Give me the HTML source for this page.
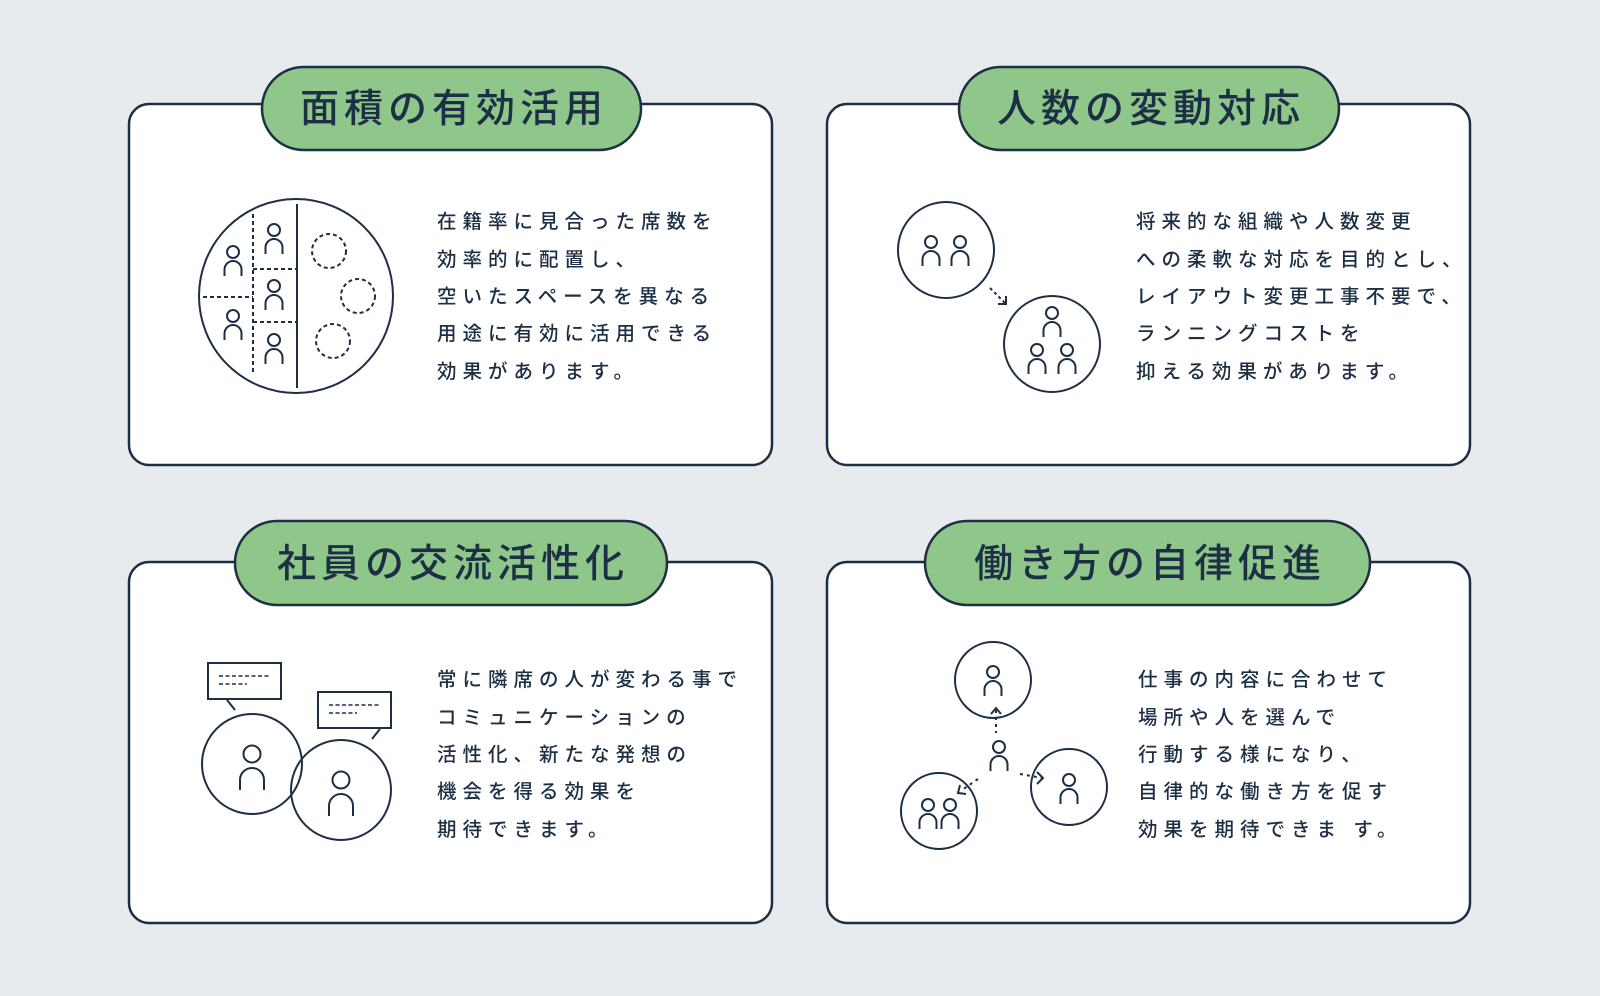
<!DOCTYPE html>
<html><head><meta charset="utf-8"><style>
html,body{margin:0;padding:0;background:#e7ebee;}
svg{display:block}
.t{font-family:"Liberation Sans","Noto Sans CJK JP",sans-serif;fill:#1c2f45;}
</style></head><body>
<svg width="1600" height="996" viewBox="0 0 1600 996" xmlns="http://www.w3.org/2000/svg">
<defs>
<g id="p" fill="none" stroke="#1c2f45" stroke-width="2"><circle cx="0" cy="0" r="6"/><path d="M-8.5,24 V17.5 A8.5,8.5 0 0 1 8.5,17.5 V24"/></g>
<g id="pb" fill="none" stroke="#1c2f45" stroke-width="2"><circle cx="0" cy="0" r="8.5"/><path d="M-12,36 V26 A12,12 0 0 1 12,26 V36"/></g>
</defs>
<rect width="1600" height="996" fill="#e7ebee"/>
<g fill="#fff" stroke="#1c2f45" stroke-width="2.5">
<rect x="129" y="104" width="643" height="361" rx="20"/>
<rect x="827" y="104" width="643" height="361" rx="20"/>
<rect x="129" y="562" width="643" height="361" rx="20"/>
<rect x="827" y="562" width="643" height="361" rx="20"/>
</g>
<g fill="#8fc68a" stroke="#1c2f45" stroke-width="2.5">
<rect x="262" y="67" width="379" height="83" rx="41.5"/>
<rect x="959" y="67" width="380" height="83" rx="41.5"/>
<rect x="235" y="521" width="432" height="84" rx="42"/>
<rect x="925" y="521" width="445" height="84" rx="42"/>
</g>
<g class="t" font-size="39" font-weight="500" text-anchor="middle" letter-spacing="5">
<text x="454" y="122">面積の有効活用</text>
<text x="1151" y="122">人数の変動対応</text>
<text x="453" y="577">社員の交流活性化</text>
<text x="1150" y="577">働き方の自律促進</text>
</g>
<g class="t" font-size="19.5" font-weight="500" letter-spacing="6">
<text x="437" y="228">在籍率に見合った席数を</text>
<text x="437" y="266">効率的に配置し、</text>
<text x="437" y="303">空いたスペースを異なる</text>
<text x="437" y="340">用途に有効に活用できる</text>
<text x="437" y="378">効果があります。</text>
<text x="1136" y="228">将来的な組織や人数変更</text>
<text x="1136" y="266">への柔軟な対応を目的とし、</text>
<text x="1136" y="303">レイアウト変更工事不要で、</text>
<text x="1136" y="340">ランニングコストを</text>
<text x="1136" y="378">抑える効果があります。</text>
<text x="437" y="686">常に隣席の人が変わる事で</text>
<text x="437" y="724">コミュニケーションの</text>
<text x="437" y="761">活性化、新たな発想の</text>
<text x="437" y="798">機会を得る効果を</text>
<text x="437" y="836">期待できます。</text>
<text x="1138" y="686">仕事の内容に合わせて</text>
<text x="1138" y="724">場所や人を選んで</text>
<text x="1138" y="761">行動する様になり、</text>
<text x="1138" y="798">自律的な働き方を促す</text>
<text x="1138" y="836">効果を期待できま す。</text>
</g>
<g fill="none" stroke="#1c2f45" stroke-width="2">
<circle cx="296" cy="296" r="97"/>
<line x1="297" y1="204" x2="297" y2="388"/>
<g stroke-dasharray="4,3">
<line x1="253" y1="214" x2="253" y2="373"/>
<line x1="203" y1="297" x2="253" y2="297"/>
<line x1="253" y1="269" x2="297" y2="269"/>
<line x1="253" y1="322" x2="297" y2="322"/>
<circle cx="329" cy="251" r="17"/>
<circle cx="358" cy="296" r="17"/>
<circle cx="333" cy="341" r="17"/>
</g>
</g>
<use href="#p" x="233" y="252"/>
<use href="#p" x="233" y="316"/>
<use href="#p" x="274" y="230"/>
<use href="#p" x="274" y="286"/>
<use href="#p" x="274" y="340"/>
<g fill="none" stroke="#1c2f45" stroke-width="2">
<circle cx="946" cy="250" r="48"/>
<circle cx="1052" cy="344" r="48"/>
<line x1="990" y1="288" x2="1005" y2="303" stroke-dasharray="3,3"/>
<path d="M998,304 H1006 V296"/>
</g>
<use href="#p" x="931" y="242"/>
<use href="#p" x="960" y="242"/>
<use href="#p" x="1052" y="313"/>
<use href="#p" x="1037" y="350"/>
<use href="#p" x="1067" y="350"/>
<g fill="none" stroke="#1c2f45" stroke-width="2">
<rect x="208" y="663" width="73" height="36"/>
<rect x="318" y="692" width="73" height="36"/>
<line x1="227" y1="700" x2="235" y2="710"/>
<line x1="380" y1="729" x2="372" y2="739"/>
<circle cx="252" cy="764" r="50"/>
<circle cx="341" cy="790" r="50"/>
<g stroke-width="1.5" stroke-dasharray="4,2.5">
<line x1="219" y1="676" x2="271" y2="676"/><line x1="219" y1="684" x2="247" y2="684"/>
<line x1="329" y1="705" x2="381" y2="705"/><line x1="329" y1="713" x2="357" y2="713"/>
</g>
</g>
<use href="#pb" x="252" y="754"/>
<use href="#pb" x="341" y="780"/>
<g fill="none" stroke="#1c2f45" stroke-width="2">
<circle cx="993" cy="680" r="38"/>
<circle cx="1069" cy="787" r="38"/>
<circle cx="939" cy="811" r="38"/>
<g stroke-dasharray="3,4">
<line x1="996" y1="710" x2="996" y2="733"/>
<line x1="1020" y1="774" x2="1042" y2="778"/>
<line x1="978" y1="779" x2="962" y2="790"/>
</g>
<path d="M991,714 L996,708 L1001,714"/>
<path d="M1037,772 L1043,778 L1037,784"/>
<path d="M960,785 L958,793 L966,794"/>
</g>
<use href="#p" x="993" y="672"/>
<use href="#p" x="1069" y="780"/>
<use href="#p" x="928" y="805"/>
<use href="#p" x="950" y="805"/>
<use href="#p" x="999" y="747"/>
</svg>
</body></html>
